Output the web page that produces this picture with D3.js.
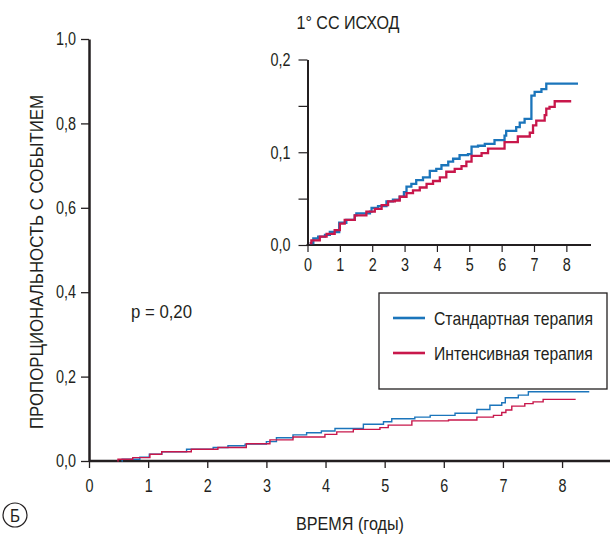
<!DOCTYPE html>
<html lang="ru">
<head>
<meta charset="UTF-8">
<title>1° СС ИСХОД</title>
<style>
  body { margin: 0; padding: 0; background: #fff; }
  svg { display: block; font-family: "Liberation Sans", Arial, sans-serif; }
  .axis path, .axis line { stroke: #231f20; }
  .axis text { fill: #231f20; font-size: 18px; font-family: "Liberation Sans", Arial, sans-serif; }
</style>
</head>
<body>
<svg id="chart" width="610" height="536"></svg>
<script src="https://cdnjs.cloudflare.com/ajax/libs/d3/7.9.0/d3.min.js"></script>
<script>
// main chart: [time (years), cumulative proportion]
const mainStandard = [
  [0.55, 0], [0.56, 0.004], [0.86, 0.009], [1.02, 0.016], [1.23, 0.022], [1.65, 0.028],
  [2.10, 0.032], [2.35, 0.036], [2.64, 0.040], [3.00, 0.046], [3.17, 0.055], [3.45, 0.062],
  [3.68, 0.067], [3.93, 0.071], [4.16, 0.077], [4.64, 0.087], [4.98, 0.093], [5.12, 0.100],
  [5.51, 0.104], [5.77, 0.108], [6.19, 0.113], [6.56, 0.122], [6.78, 0.132], [6.98, 0.138],
  [7.04, 0.150], [7.26, 0.156], [7.43, 0.164], [8.46, 0.164]
];
const mainIntensive = [
  [0.48, 0], [0.49, 0.004], [0.74, 0.008], [1.03, 0.016], [1.23, 0.022], [1.73, 0.028],
  [2.18, 0.032], [2.66, 0.041], [3.06, 0.050], [3.45, 0.057], [3.99, 0.063], [4.19, 0.069],
  [4.47, 0.075], [4.92, 0.079], [5.06, 0.085], [5.46, 0.095], [6.08, 0.097], [6.56, 0.104],
  [6.84, 0.108], [6.98, 0.115], [7.05, 0.121], [7.15, 0.130], [7.37, 0.136], [7.51, 0.140],
  [7.68, 0.146], [8.23, 0.146]
];
// inset (zoomed) chart
const insetStandard = [
  [0.07, 0.002], [0.18, 0.007], [0.33, 0.009], [0.54, 0.011], [0.69, 0.014], [0.98, 0.024],
  [1.20, 0.027], [1.46, 0.032], [1.51, 0.034], [1.93, 0.036], [1.98, 0.040], [2.18, 0.042],
  [2.44, 0.047], [2.64, 0.049], [2.85, 0.052], [2.98, 0.057], [3.06, 0.063], [3.21, 0.066],
  [3.36, 0.070], [3.57, 0.073], [3.78, 0.080], [3.98, 0.082], [4.14, 0.086], [4.35, 0.090],
  [4.50, 0.093], [4.70, 0.097], [4.96, 0.098], [5.07, 0.106], [5.27, 0.107], [5.48, 0.109],
  [5.78, 0.113], [6.09, 0.118], [6.14, 0.123], [6.45, 0.127], [6.56, 0.132], [6.71, 0.136],
  [6.92, 0.161], [7.02, 0.165], [7.23, 0.168], [7.38, 0.174], [8.36, 0.174]
];
const insetIntensive = [
  [0.07, 0.002], [0.12, 0.005], [0.38, 0.009], [0.59, 0.012], [0.84, 0.016], [1.00, 0.023],
  [1.15, 0.027], [1.46, 0.032], [1.82, 0.036], [2.08, 0.039], [2.29, 0.043], [2.49, 0.047],
  [2.70, 0.048], [2.85, 0.052], [3.06, 0.056], [3.26, 0.059], [3.47, 0.062], [3.68, 0.066],
  [3.88, 0.069], [4.09, 0.073], [4.29, 0.079], [4.55, 0.082], [4.76, 0.085], [4.91, 0.090],
  [5.07, 0.096], [5.38, 0.099], [5.58, 0.104], [6.09, 0.111], [6.50, 0.117], [6.87, 0.121],
  [6.97, 0.129], [7.07, 0.134], [7.33, 0.140], [7.38, 0.147], [7.48, 0.149], [7.64, 0.155],
  [8.15, 0.155]
];

const mainYTicks = [0, 0.2, 0.4, 0.6, 0.8, 1.0];
const mainXTicks = [0, 1, 2, 3, 4, 5, 6, 7, 8];
const insetYTicks = [0, 0.05, 0.1, 0.15, 0.2];
const insetYLabeled = [0, 0.1, 0.2];
const seriesNames = ['Стандартная терапия', 'Интенсивная терапия'];
const seriesColors = ['#1b75bb', '#c8174b'];

const svg = d3.select('#chart');
const fmt = d => d3.format('.1f')(d).replace('.', ',');

// no condensed font installed: squeeze the glyphs horizontally
function condense(sel, f) {
  sel.each(function () {
    const w = this.getComputedTextLength();
    if (w > 0) d3.select(this).attr('textLength', w * f).attr('lengthAdjust', 'spacingAndGlyphs');
  });
}
function label(x, y, txt, width, anchor) {
  return svg.append('text').attr('x', x).attr('y', y).attr('text-anchor', anchor || 'middle')
    .attr('font-size', 18.5).attr('fill', '#231f20').text(txt)
    .attr('textLength', width).attr('lengthAdjust', 'spacingAndGlyphs');
}

// ---- main chart ----
const x = d3.scaleLinear().domain([0, 8.76]).range([89, 607]);
const y = d3.scaleLinear().domain([0, 1]).range([461, 39]);

const xAxis = svg.append('g').attr('class', 'axis').attr('transform', 'translate(0,461)')
  .call(d3.axisBottom(x).tickValues(mainXTicks).tickFormat(d3.format('d')).tickSize(7).tickSizeOuter(0).tickPadding(11));
xAxis.select('.domain').attr('stroke-width', 2.5).attr('d', 'M89,0H610');
xAxis.selectAll('.tick line').attr('stroke-width', 1.3);

const yAxis = svg.append('g').attr('class', 'axis').attr('transform', 'translate(89,0)')
  .call(d3.axisLeft(y).tickValues(mainYTicks).tickFormat(fmt).tickSize(8).tickSizeOuter(0).tickPadding(5));
yAxis.select('.domain').attr('stroke-width', 2.5);
yAxis.selectAll('.tick line').attr('stroke-width', 1.3);

const mainLine = d3.line().x(d => x(d[0])).y(d => y(d[1])).curve(d3.curveStepAfter);
[mainStandard, mainIntensive].forEach((s, i) => {
  svg.append('path').datum(s).attr('d', mainLine)
    .attr('fill', 'none').attr('stroke', seriesColors[i]).attr('stroke-width', 1.4);
});

svg.append('text').attr('transform', 'translate(43,262) rotate(-90)')
  .attr('text-anchor', 'middle').attr('font-size', 18.5).attr('fill', '#231f20')
  .attr('textLength', 334).attr('lengthAdjust', 'spacingAndGlyphs')
  .text('ПРОПОРЦИОНАЛЬНОСТЬ С СОБЫТИЕМ');
label(350, 530, 'ВРЕМЯ (годы)', 108);
label(131, 318, 'p =  0,20', 61, 'start');

svg.append('circle').attr('cx', 15).attr('cy', 515).attr('r', 12)
  .attr('fill', 'none').attr('stroke', '#231f20').attr('stroke-width', 1.2);
label(15, 522, 'Б', 10);

// ---- inset chart ----
const ix = d3.scaleLinear().domain([0, 8.7]).range([307.5, 589]);
const iy = d3.scaleLinear().domain([0, 0.2]).range([245, 59.5]);

const ixAxis = svg.append('g').attr('class', 'axis').attr('transform', 'translate(0,245)')
  .call(d3.axisBottom(ix).tickValues(mainXTicks).tickFormat(d3.format('d')).tickSize(7).tickSizeOuter(0).tickPadding(6));
ixAxis.select('.domain').attr('stroke-width', 2).attr('d', 'M306.5,0H591');
ixAxis.selectAll('.tick line').attr('stroke-width', 1.2);

const iyAxis = svg.append('g').attr('class', 'axis').attr('transform', 'translate(307.5,0)')
  .call(d3.axisLeft(iy).tickValues(insetYTicks)
    .tickFormat(d => insetYLabeled.includes(d) ? fmt(d) : '').tickSize(9).tickSizeOuter(0).tickPadding(8));
iyAxis.select('.domain').attr('stroke-width', 2);
iyAxis.selectAll('.tick line').attr('stroke-width', 1.2);

condense(svg.selectAll('.axis text'), 0.8);

const insetLine = d3.line().x(d => ix(d[0])).y(d => iy(d[1])).curve(d3.curveStepAfter);
[insetStandard, insetIntensive].forEach((s, i) => {
  svg.append('path').datum(s).attr('d', insetLine)
    .attr('fill', 'none').attr('stroke', seriesColors[i]).attr('stroke-width', 2.3);
});

label(348, 29, '1° СС ИСХОД', 103);

// ---- legend ----
const legend = svg.append('g').attr('transform', 'translate(379,293)');
legend.append('rect').attr('width', 228).attr('height', 96)
  .attr('fill', '#fff').attr('stroke', '#231f20').attr('stroke-width', 1.3);
seriesNames.forEach((name, i) => {
  const g = legend.append('g').attr('transform', `translate(0,${25 + i * 35})`);
  g.append('line').attr('x1', 14).attr('x2', 46).attr('stroke', seriesColors[i]).attr('stroke-width', 2.6);
  const t = g.append('text').attr('font-size', 18.5).attr('fill', '#231f20').text(name);
  const sx = 159 / t.node().getComputedTextLength();
  t.attr('transform', `translate(55,7) scale(${sx},1)`);
});
</script>
</body>
</html>
